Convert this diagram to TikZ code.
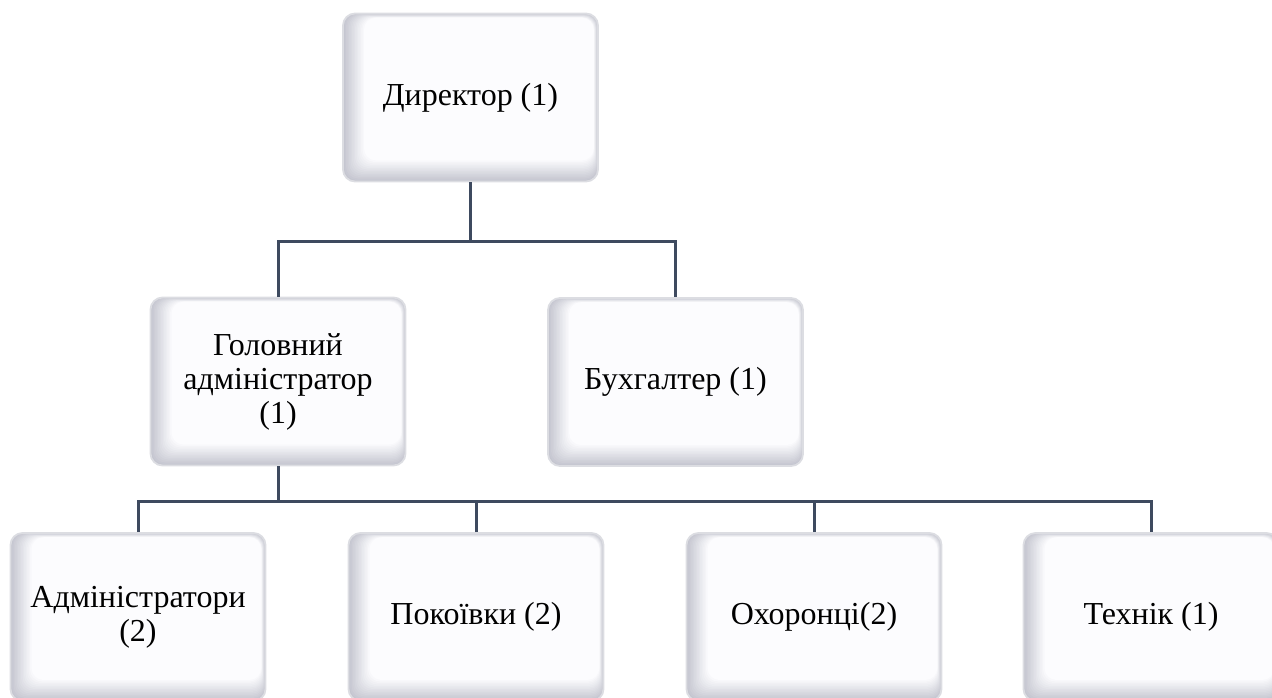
\documentclass[tikz,border=0pt]{standalone}
\usepackage{fontspec}
\setmainfont{Liberation Serif}
\newfontfamily\tnr{Liberation Serif}
\definecolor{linec}{HTML}{3E4A5F}
\definecolor{bevel}{HTML}{C4C5CF}
\definecolor{face}{HTML}{FCFCFE}
\definecolor{rim}{HTML}{DCDDE2}
\begin{document}
\begin{tikzpicture}[x=1pt,y=-1pt,
  orgbox/.style={rounded corners=12pt, minimum width=255pt, minimum height=168pt,
    inner sep=0pt, draw=rim, line width=1.8pt, fill=face, align=center,
    font=\tnr\fontsize{32}{34}\selectfont,
    path picture={
      \foreach \i in {0,...,14}{
        \pgfmathtruncatemacro\pc{100-\i*100/14}
        \fill[bevel!\pc!face, rounded corners=12pt]
          ([xshift={1.5pt*\i},yshift={1.5pt*\i}]path picture bounding box.south west)
          rectangle
          ([xshift={-0.3pt*\i},yshift={-0.3pt*\i}]path picture bounding box.north east);
      }
    }},
  conn/.style={draw=linec, line width=3pt}]
\useasboundingbox (0,0) rectangle (1272,697);

\node[orgbox] (dir) at (470.5,97.5) {Директор (1)};
\node[orgbox] (gol) at (278,381.5) {Головний\\адміністратор\\(1)};
\node[orgbox] (buh) at (675.5,382) {Бухгалтер (1)};
\node[orgbox] (adm) at (138,617) {Адміністратори\\(2)};
\node[orgbox] (pok) at (476,617) {Покоївки (2)};
\node[orgbox] (oho) at (814,617) {Охоронці(2)};
\node[orgbox] (teh) at (1151,617) {Технік (1)};

\coordinate (j1) at (470.5,241);
\coordinate (j2) at (278,501);

\draw[conn] (dir.south) -- (j1);
\draw[conn] (gol.north) |- (j1) -| (buh.north);
\draw[conn] (gol.south) -- (j2);
\draw[conn] (adm.north) |- (j2) -| (teh.north);
\draw[conn] (pok.north) -- (pok.north |- j2);
\draw[conn] (oho.north) -- (oho.north |- j2);
\end{tikzpicture}
\end{document}
